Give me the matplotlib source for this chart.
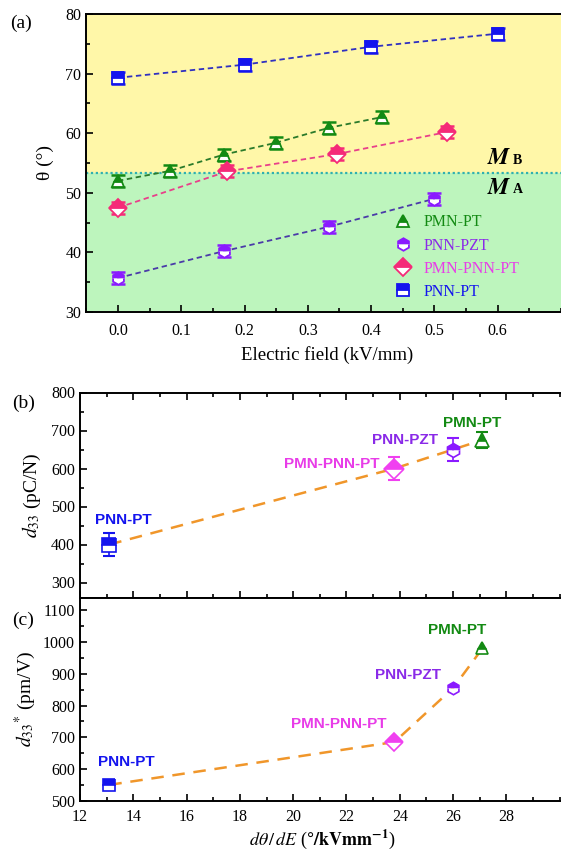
import matplotlib
matplotlib.use('Agg')
import matplotlib.pyplot as plt
from matplotlib.ticker import MultipleLocator

# ---- data ----
names = ['PMN-PT', 'PNN-PZT', 'PMN-PNN-PT', 'PNN-PT']
markers = ['^', 'h', 'D', 's']

# (a) theta vs electric field
field_pmn = [0.0, 0.083, 0.167, 0.25, 0.333, 0.417]
theta_pmn = [52.0, 53.7, 56.4, 58.4, 60.9, 62.7]
field_pzt = [0.0, 0.167, 0.333, 0.5]
theta_pzt = [35.7, 40.2, 44.3, 49.0]
field_pmnpnn = [0.0, 0.173, 0.346, 0.52]
theta_pmnpnn = [47.5, 53.6, 56.5, 60.2]
field_pnn = [0.0, 0.2, 0.4, 0.6]
theta_pnn = [69.3, 71.5, 74.5, 76.7]
theta_err = 1.0
boundary = 53.3

# (b), (c) vs d(theta)/dE ; order PNN-PT, PMN-PNN-PT, PNN-PZT, PMN-PT
slope_names = ['PNN-PT', 'PMN-PNN-PT', 'PNN-PZT', 'PMN-PT']
slope = [13.1, 23.8, 26.0, 27.1]
d33 = [400, 600, 650, 675]
d33_err = [30, 30, 30, 22]
d33s = [550, 685, 855, 980]

col_a = {'PMN-PT': '#138a13', 'PNN-PZT': '#8a1aff', 'PMN-PNN-PT': '#f52a78', 'PNN-PT': '#1414ee'}
col_txt = {'PMN-PT': '#138a13', 'PNN-PZT': '#8a2ae8', 'PMN-PNN-PT': '#e83ce8', 'PNN-PT': '#1414ee'}
line_a = {'PMN-PT': '#2a7a2a', 'PNN-PZT': '#4a3aa8', 'PMN-PNN-PT': '#e8408a', 'PNN-PT': '#3030c0'}
mk = dict(zip(names, markers))

serif = 'Liberation Serif'
plt.rcParams['font.family'] = serif
plt.rcParams['mathtext.fontset'] = 'stix'

fig = plt.figure(figsize=(5.61, 8.52), dpi=100)

# ---- panel (a) ----
ax = fig.add_axes([86.3/561, 1-312/852, 481/561, 298/852])
ax.set_xlim(-0.05, 0.71)
ax.set_ylim(30, 80)
ax.axhspan(boundary, 80, color='#fff7a8', zorder=0)
ax.axhspan(30, boundary, color='#bdf5bd', zorder=0)
ax.axhline(boundary, color='#30b0b0', ls=(0, (1, 1.2)), lw=1.6, zorder=1)

series_a = {'PMN-PT': (field_pmn, theta_pmn), 'PNN-PZT': (field_pzt, theta_pzt),
            'PMN-PNN-PT': (field_pmnpnn, theta_pmnpnn), 'PNN-PT': (field_pnn, theta_pnn)}
handles = []
for n in names:
    x, y = series_a[n]
    ax.plot(x, y, ls=(0, (3, 2)), color=line_a[n], lw=1.3, zorder=2)
    ax.errorbar(x, y, yerr=theta_err, fmt='none', ecolor=col_a[n], capsize=5, elinewidth=1.3, capthick=1.8, zorder=3)
    h, = ax.plot(x, y, ls='none', marker=mk[n], ms=9, color=col_a[n], mec=col_a[n],
                 fillstyle='top', markerfacecoloralt='white', mew=1.3, zorder=4, label=n)
    handles.append(h)
leg = ax.legend(handles=handles, loc='lower right', bbox_to_anchor=(0.925, 0.0), frameon=False,
                fontsize=11.5, handlelength=0.8, handletextpad=0.9, labelspacing=0.45, borderaxespad=0.35)
for t, n in zip(leg.get_texts(), names):
    t.set_color(col_txt[n])
ax.text(0.622, 55.8, r'$\boldsymbol{M}$', fontsize=17, ha='right', va='center')
ax.text(0.624, 55.5, 'B', fontsize=10, fontweight='bold', ha='left', va='center')
ax.text(0.622, 50.8, r'$\boldsymbol{M}$', fontsize=17, ha='right', va='center')
ax.text(0.624, 50.5, 'A', fontsize=10, fontweight='bold', ha='left', va='center')

ax.set_xticks([0.0, 0.1, 0.2, 0.3, 0.4, 0.5, 0.6])
ax.xaxis.set_minor_locator(MultipleLocator(0.05))
ax.set_yticks([30, 40, 50, 60, 70, 80])
ax.yaxis.set_minor_locator(MultipleLocator(5))
ax.tick_params(which='both', direction='in', labelsize=11.5, width=1.2)
ax.tick_params(which='major', length=5)
ax.tick_params(which='minor', length=3)
ax.tick_params(axis='x', pad=8)
for s in ax.spines.values():
    s.set_linewidth(1.4)
ax.set_xlabel('Electric field (kV/mm)', fontsize=13.5, labelpad=5)
ax.set_ylabel('θ (°)', fontsize=14, labelpad=8)
fig.text(10/561, 1-28/852, '(a)', fontsize=14)

# ---- panels (b) and (c) ----
axb = fig.add_axes([80/561, 1-597.7/852, 485/561, 205.2/852])
axc = fig.add_axes([80/561, 1-800.7/852, 485/561, 203/852], sharex=axb)
axb.set_xlim(12, 30.2)
axb.set_ylim(260, 800)
axc.set_ylim(500, 1140)

orange = '#f0962a'
axb.plot(slope, d33, ls=(0, (5, 3.5)), color=orange, lw=1.8, zorder=2)
axc.plot(slope, d33s, ls=(0, (5, 3.5)), color=orange, lw=1.8, zorder=2)

col_bc = {'PMN-PT': '#138a13', 'PNN-PZT': '#8a1aff', 'PMN-PNN-PT': '#f040f0', 'PNN-PT': '#1414ee'}
off_b = {'PNN-PT': (14, 24, 'center'), 'PMN-PNN-PT': (-15, 5, 'right'),
         'PNN-PZT': (-48, 10, 'center'), 'PMN-PT': (-10, 17, 'center')}
off_c = {'PNN-PT': (17, 23, 'center'), 'PMN-PNN-PT': (-56, 18, 'center'),
         'PNN-PZT': (-45, 13, 'center'), 'PMN-PT': (-25, 18, 'center')}
for i, n in enumerate(slope_names):
    c = col_bc[n]
    axb.errorbar(slope[i], d33[i], yerr=d33_err[i], fmt='none', ecolor=c, capsize=4, elinewidth=1.2, capthick=1.5, zorder=3)
    axb.plot(slope[i], d33[i], ls='none', marker=mk[n], ms=10, color=c, mec=c, fillstyle='top',
             markerfacecoloralt='white', mew=1.2, zorder=4)
    axc.plot(slope[i], d33s[i], ls='none', marker=mk[n], ms=9, color=c, mec=c, fillstyle='top',
             markerfacecoloralt='white', mew=1.2, zorder=4)
    dx, dy, ha = off_b[n]
    axb.annotate(n, (slope[i], d33[i]), xytext=(dx, dy), textcoords='offset pixels', ha=ha, va='center',
                 color=col_txt[n], fontsize=11, fontweight='bold', family='Liberation Sans')
    dx, dy, ha = off_c[n]
    axc.annotate(n, (slope[i], d33s[i]), xytext=(dx, dy), textcoords='offset pixels', ha=ha, va='center',
                 color=col_txt[n], fontsize=11, fontweight='bold', family='Liberation Sans')

for a in (axb, axc):
    a.set_xticks([12, 14, 16, 18, 20, 22, 24, 26, 28])
    a.xaxis.set_minor_locator(MultipleLocator(1))
    a.tick_params(which='both', direction='in', labelsize=11.5, width=1.2)
    a.tick_params(which='major', length=5)
    a.tick_params(which='minor', length=3)
    for s in a.spines.values():
        s.set_linewidth(1.4)
axb.set_yticks([300, 400, 500, 600, 700, 800])
axc.set_yticks([500, 600, 700, 800, 900, 1000, 1100])
axb.yaxis.set_minor_locator(MultipleLocator(50))
axc.yaxis.set_minor_locator(MultipleLocator(50))
axb.tick_params(axis='x', which='both', top=True, labelbottom=False)
axc.tick_params(axis='x', pad=6)

axb.set_ylabel(r'$d_{33}$ (pC/N)', fontsize=14, labelpad=6)
axc.set_ylabel(r'$d_{33}{}^{*}$ (pm/V)', fontsize=14, labelpad=4)
axc.set_xlabel(r'$d\theta\,/\,dE$ ($\mathbf{\degree/kVmm^{-1}}$)', fontsize=13, labelpad=2)
fig.text(12/561, 1-408/852, '(b)', fontsize=14)
fig.text(12/561, 1-625/852, '(c)', fontsize=14)

fig.savefig('out.png', dpi=100)
